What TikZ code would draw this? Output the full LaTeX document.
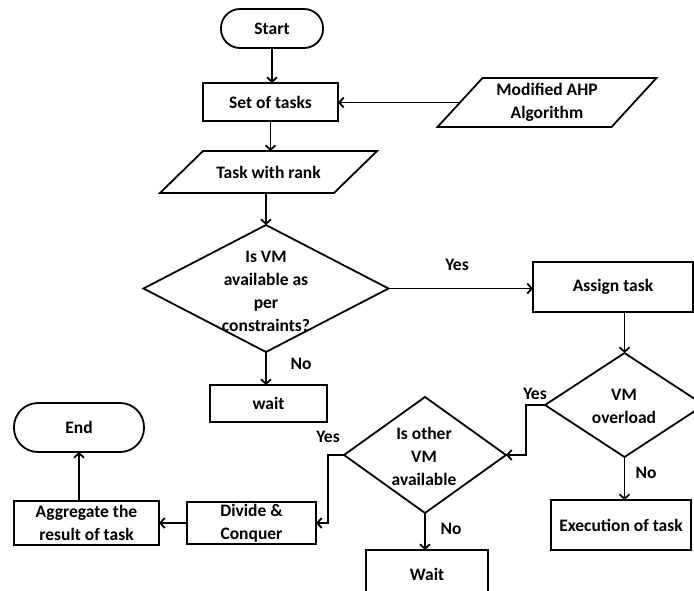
\documentclass[tikz,border=0pt]{standalone}
\usepackage{fontspec}
\setmainfont{Carlito}
\usetikzlibrary{arrows.meta,shapes.geometric}
\begin{document}
\begin{tikzpicture}[x=1pt,y=-1pt,
  every node/.style={font=\fontsize{17.5}{23}\selectfont\bfseries, align=center, inner sep=0pt, outer sep=0pt},
  proc/.style={draw, line width=1.8pt, rectangle},
  ghost/.style={rectangle},
  dia/.style={draw, line width=1.8pt, diamond},
  lbl/.style={},
  line/.style={line width=1.8pt, line join=miter},
  conn/.style={line width=1.8pt, -{Straight Barb[length=4.5pt,width=10pt]}}
]
\useasboundingbox (0,0) rectangle (694,590);

% terminals and processes
\node[proc, rounded corners=19pt, minimum width=102pt, minimum height=39pt] (start) at (272,28.5) {Start};
\node[proc, minimum width=135pt, minimum height=38pt] (set) at (270.5,102) {Set of tasks};

% Modified AHP (parallelogram)
\node[ghost, minimum width=174pt, minimum height=49pt] (ahp) at (547,102.5) {Modified AHP\\Algorithm};
\draw[line] ([xshift=22.5pt]ahp.north west) -- ([xshift=22.5pt]ahp.north east) -- ([xshift=-22.5pt]ahp.south east) -- ([xshift=-22.5pt]ahp.south west) -- cycle;

% Task with rank (parallelogram)
\node[ghost, minimum width=174pt, minimum height=42pt] (rank) at (268.5,172) {Task with rank};
\draw[line] ([xshift=21.5pt]rank.north west) -- ([xshift=21.5pt]rank.north east) -- ([xshift=-21.5pt]rank.south east) -- ([xshift=-21.5pt]rank.south west) -- cycle;

% decision 1
\node[dia, minimum width=245pt, minimum height=127pt] (d1) at (266,288.5) {};
\node (d1t) at (266,291) {Is VM\\available as\\per\\constraints?};

\node[proc, minimum width=160pt, minimum height=50pt] (assign) at (613,287) {Assign task};
\node[proc, minimum width=117pt, minimum height=37pt] (wait1) at (268.5,403.5) {wait};

% decision 2
\node[dia, minimum width=159pt, minimum height=104pt] (d2) at (624.5,405) {};
\node (d2t) at (624,406.5) {VM\\overload};

\node[proc, minimum width=140pt, minimum height=50pt] (exec) at (621,525) {Execution of task};

% decision 3
\node[dia, minimum width=162pt, minimum height=116pt] (d3) at (425,455) {};
\node (d3t) at (424,456) {Is other\\VM\\available};

\node[proc, minimum width=122pt, minimum height=48pt] (wait2) at (427,574) {Wait};
\node[proc, minimum width=129pt, minimum height=42pt] (divide) at (251.5,523) {Divide \&\\Conquer};
\node[proc, minimum width=145pt, minimum height=44pt] (agg) at (86.5,523) {Aggregate the\\result of task};
\node[proc, rounded corners=24pt, minimum width=130pt, minimum height=49pt] (end) at (79,427.5) {End};

% labels
\node[lbl] (yes1) at (457,265) {Yes};
\node[lbl] (no1) at (301,364) {No};
\node[lbl] (yes2) at (535,394) {Yes};
\node[lbl] (no2) at (646,473) {No};
\node[lbl] (yes3) at (328,437) {Yes};
\node[lbl] (no3) at (451,529) {No};

% connectors
\draw[conn] (start.south) -- (start.south |- set.north);
\draw[conn] (ahp.west) -- (ahp.west -| set.east);
\draw[conn] (set.south) -- (set.south |- rank.north);
\draw[conn] (rank.south -| d1.north) -- (d1.north);
\draw[conn] (d1.east) -- (d1.east -| assign.west);
\draw[conn] (d1.south) -- (d1.south |- wait1.north);
\draw[conn] (d2.north |- assign.south) -- (d2.north);
\draw[conn] (d2.west) -- ++(-19,0) |- (d3.east);
\draw[conn] (d2.south) -- (d2.south |- exec.north);
\draw[conn] (d3.west) -- ++(-16,0) |- (divide.east);
\draw[conn] (d3.south) -- (d3.south |- wait2.north);
\draw[conn] (divide.west) -- (agg.east);
\draw[conn] (end.south |- agg.north) -- (end.south);
\end{tikzpicture}
\end{document}
